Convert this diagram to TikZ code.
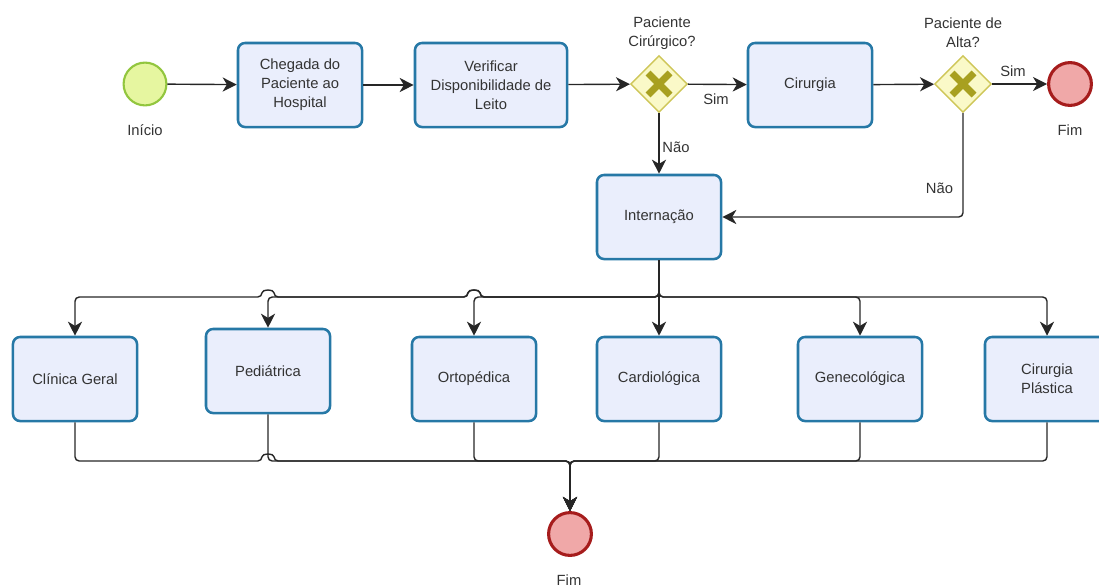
\documentclass[tikz,border=0pt]{standalone}
\usepackage{fontspec}
\setmainfont{Liberation Sans}
\usetikzlibrary{arrows.meta,shapes.geometric}

\definecolor{taskfill}{RGB}{234,238,252}
\definecolor{taskline}{RGB}{38,120,166}
\definecolor{gwfill}{RGB}{250,249,200}
\definecolor{gwline}{RGB}{206,198,88}
\definecolor{gwmark}{RGB}{168,160,32}
\definecolor{startfill}{RGB}{230,246,160}
\definecolor{startline}{RGB}{146,198,62}
\definecolor{endfill}{RGB}{240,168,168}
\definecolor{endline}{RGB}{166,28,28}

\begin{document}
\begin{tikzpicture}[x=0.025cm,y=-0.025cm,
    font=\fontsize{10.5}{13.5}\selectfont,
    task/.style={draw=taskline,fill=taskfill,line width=1.8pt,rounded corners=5pt,
        minimum width=3.1cm,minimum height=2.1cm,align=center,text=black!80},
    gateway/.style={diamond,draw=gwline,fill=gwfill,line width=1pt,minimum size=1.42cm,inner sep=0pt},
    gwx/.style={gwmark,line width=5pt},
    startev/.style={circle,draw=startline,fill=startfill,line width=1.5pt,minimum size=1.07cm,inner sep=0pt},
    endev/.style={circle,draw=endline,fill=endfill,line width=2.2pt,minimum size=1.07cm,inner sep=0pt},
    lbl/.style={align=center,text=black!80},
    hop/.style={out=90,in=90,looseness=1.7},
    flow/.style={draw=black!85,line width=1pt,rounded corners=3pt,
        -{Stealth[length=10pt,width=10pt,inset=3pt]}}
]
    \useasboundingbox (0,0) rectangle (1099,587);
    \clip (0,0) rectangle (1099,587);

    % upper row
    \node (start) [startev] at (145,84) {};
    \node (startlbl) [lbl] at (145,130) {Início};
    \node (cheg) [task] at (300,85) {Chegada do\\Paciente ao\\Hospital};
    \node (verif) [task,minimum width=3.8cm] at (491,85) {Verificar\\Disponibilidade de\\Leito};
    \node (gw1) [gateway] at (659,84) {};
    \node (gw1lbl) [lbl] at (662,33) {Paciente\\Cirúrgico?};
    \node (cir) [task] at (810,85) {Cirurgia};
    \node (gw2) [gateway] at (963,84) {};
    \node (gw2lbl) [lbl] at (963,33) {Paciente de\\Alta?};
    \node (fimA) [endev] at (1070,84) {};
    \node (fimAlbl) [lbl] at (1070,130) {Fim};
    \foreach \g in {gw1,gw2} {
        \draw[gwx] ([shift={(-11,-11)}]\g.center) -- ([shift={(11,11)}]\g.center);
        \draw[gwx] ([shift={(-11,11)}]\g.center) -- ([shift={(11,-11)}]\g.center);
    }

    \node (int) [task] at (659,217) {Internação};

    % wards
    \node (clin) [task] at (75,379) {Clínica Geral};
    \node (pedi) [task] at (268,371) {Pediátrica};
    \node (orto) [task] at (474,379) {Ortopédica};
    \node (card) [task] at (659,379) {Cardiológica};
    \node (gene) [task] at (860,379) {Genecológica};
    \node (plast) [task] at (1047,379) {Cirurgia\\Plástica};

    \node (fimB) [endev] at (570,534) {};
    \node (fimBlbl) [lbl] at (569,580) {Fim};

    \coordinate (hub) at (659,297);
    \coordinate (merge) at (570,461);

    % flows
    \draw[flow] (start) -- (cheg);
    \draw[flow] (cheg) -- (verif);
    \draw[flow] (verif) -- (gw1);
    \draw[flow] (gw1) -- (cir);
    \draw[flow] (gw1) -- (int);
    \draw[flow] (cir) -- (gw2);
    \draw[flow] (gw2) -- (fimA);
    \draw[flow] (gw2) |- (int);
    \node (sim1) [lbl] at (716,99) {Sim};
    \node (nao1) [lbl] at (676,147) {Não};
    \node (sim2) [lbl] at (1013,71) {Sim};
    \node (nao2) [lbl,anchor=east] at (958,188) {Não};

    \draw[flow] (int) -- (card);
    \draw[flow] (int.south) -- (hub) -- (480,297) to[hop] (468,297)
        -- (274,297) to[hop] (262,297) -| (clin.north);
    \draw[flow] (int.south) -- (hub) -- (480,297) to[hop] (468,297) -| (pedi.north);
    \draw[flow] (int.south) -- (hub) -| (orto.north);
    \draw[flow] (int.south) -- (hub) -| (gene.north);
    \draw[flow] (int.south) -- (hub) -| (plast.north);

    \draw[flow] (clin.south) |- (262,461) to[hop] (274,461) -- (merge) -- (fimB);
    \draw[flow] (pedi.south) |- (merge) -- (fimB);
    \draw[flow] (orto.south) |- (merge) -- (fimB);
    \draw[flow] (card.south) |- (merge) -- (fimB);
    \draw[flow] (gene.south) |- (merge) -- (fimB);
    \draw[flow] (plast.south) |- (merge) -- (fimB);
\end{tikzpicture}
\end{document}
